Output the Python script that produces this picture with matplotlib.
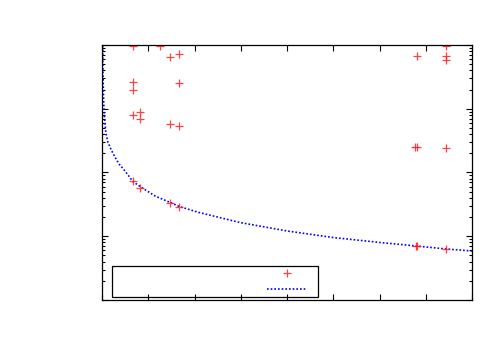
import matplotlib
matplotlib.use("Agg")
import matplotlib.pyplot as plt
from matplotlib.patches import Rectangle
from matplotlib.ticker import MultipleLocator, LogLocator, NullFormatter

# measured points (red +)
point_x = [0.677, 1.254, 1.464, 1.671, 0.677, 1.671, 0.677, 0.828, 0.677, 0.828,
           1.464, 1.671, 7.444, 6.804, 7.444, 7.444, 6.768, 6.804, 7.444,
           0.677, 0.828, 1.464, 1.671, 6.78, 6.80, 7.444]
point_y = [9750, 9750, 6410, 7150, 2655, 2506, 1968, 889, 798, 698,
           570, 536, 9650, 6650, 6650, 5880, 254, 254, 240,
           73.6, 57.8, 32.9, 29.1, 7.1, 6.95, 6.31]

# fitted curve (blue dotted)
fit_x = [0.013, 0.022, 0.035, 0.054, 0.082, 0.125, 0.201, 0.275, 0.368, 0.491,
         0.670, 0.850, 1.146, 1.464, 1.680, 2.076, 2.984, 4.0, 4.995, 6.01,
         6.79, 7.44, 8.0]
fit_y = [9640, 3380, 1372, 716, 432, 301, 225, 177, 136, 107,
         71.8, 58.6, 42.8, 34.1, 29.1, 23.8, 16.4, 12.1, 9.55, 7.98,
         7.03, 6.31, 5.87]

RED = "#ff2020"
BLUE = "#0000ff"

fig = plt.figure(figsize=(5, 3.5), dpi=100)
ax = fig.add_axes([0.204, 0.1429, 0.74, 0.7286])

ax.plot(fit_x, fit_y, linestyle=(0, (1, 1.2)), color=BLUE, linewidth=1.2)
ax.plot(point_x, point_y, linestyle="none", marker="+", color=RED,
        markersize=5.5, markeredgewidth=0.9, alpha=0.85)

ax.set_yscale("log")
ax.set_xlim(0, 8)
ax.set_ylim(1, 1e4)
ax.xaxis.set_major_locator(MultipleLocator(1))
ax.yaxis.set_major_locator(LogLocator(base=10))
ax.yaxis.set_minor_locator(LogLocator(base=10, subs=range(2, 10)))
ax.xaxis.set_major_formatter(NullFormatter())
ax.yaxis.set_major_formatter(NullFormatter())
ax.yaxis.set_minor_formatter(NullFormatter())
ax.tick_params(which="both", direction="in", top=True, right=True, width=0.8)
ax.tick_params(which="major", length=4)
ax.tick_params(which="minor", length=2.5)
for spine in ax.spines.values():
    spine.set_linewidth(0.9)

# key box, bottom left
ax.add_patch(Rectangle((0.026, 0.013), 0.557, 0.12, transform=ax.transAxes,
                       fill=False, edgecolor="black", linewidth=0.9))
ax.plot([0.501], [0.105], transform=ax.transAxes, marker="+", color=RED,
        markersize=5.5, markeredgewidth=0.9, alpha=0.85, linestyle="none")
ax.plot([0.447, 0.553], [0.044, 0.044], transform=ax.transAxes,
        linestyle=(0, (1, 1.2)), color=BLUE, linewidth=1.2)

fig.savefig("out.png")
